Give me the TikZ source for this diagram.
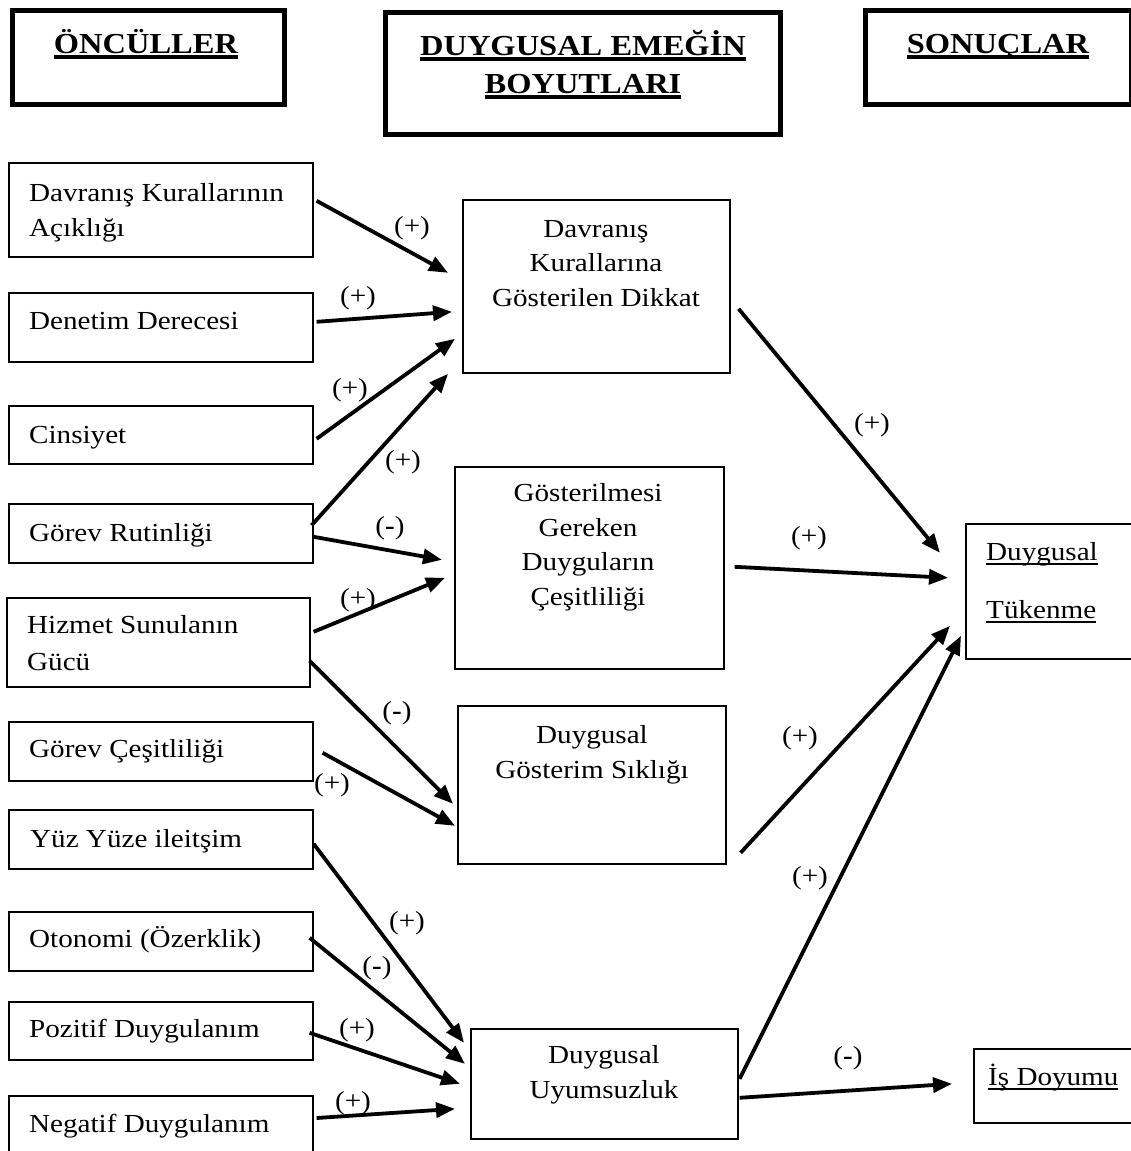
\documentclass[tikz,border=0pt]{standalone}
\usepackage{fontspec}
\setmainfont[FakeStretch=1.12]{Liberation Serif}
\usetikzlibrary{arrows.meta,calc}

% underlined text: thick rule for headings, thin rule for outcome names
\newcommand{\headul}[1]{\leavevmode\setbox0=\hbox{#1}\rlap{\rule[-5.8pt]{\wd0}{3.4pt}}\box0}
\newcommand{\thinul}[1]{\leavevmode\setbox0=\hbox{#1}\rlap{\rule[-4.8pt]{\wd0}{1.6pt}}\box0}
\newcommand{\bodysize}{\fontsize{26}{34.5}\selectfont}
\newcommand{\headsize}{\fontsize{29}{38}\selectfont\bfseries}
\newcommand{\minussign}{(\textbf{-})}

% multi-line text nodes are placed by the baseline of their last line
\tikzset{
  headbox/.style={draw, line width=5pt, anchor=north west, inner sep=0pt},
  box/.style={draw, line width=1.6pt, anchor=north west, inner sep=0pt},
  lefttxt/.style={font=\bodysize, align=left, anchor=base west, inner sep=0pt},
  midtxt/.style={font=\bodysize, align=center, anchor=base, inner sep=0pt},
  headtxt/.style={font=\headsize, align=center, anchor=base, inner sep=0pt},
  sign/.style={font=\bodysize, inner sep=0pt},
  link/.style={line width=3.8pt, -{Triangle[length=19pt,width=15pt]}}
}

\begin{document}
\begin{tikzpicture}[x=1pt,y=-1pt]
\useasboundingbox (0,0) rectangle (1131,1151);
\clip (0,0) rectangle (1131,1151);

% column headings
\node[headbox, minimum width=272pt, minimum height=94pt] (h1) at (10,8) {};
\node[headbox, minimum width=395pt, minimum height=122pt] (h2) at (383,10) {};
\node[headbox, minimum width=266pt, minimum height=94pt] (h3) at (863,8) {};
\node[headtxt] (h1t) at (146,53) {\headul{ÖNCÜLLER}};
\node[headtxt] (h2t) at (583,93) {\headul{DUYGUSAL EMEĞİN}\\\headul{BOYUTLARI}};
\node[headtxt] (h3t) at (998,53) {\headul{SONUÇLAR}};

% antecedents
\node[box, minimum width=304pt, minimum height=94pt] (c1) at (8,162) {};
\node[box, minimum width=304pt, minimum height=69pt] (c2) at (8,292) {};
\node[box, minimum width=304pt, minimum height=58pt] (c3) at (8,405) {};
\node[box, minimum width=304pt, minimum height=59pt] (c4) at (8,503) {};
\node[box, minimum width=303pt, minimum height=89pt] (c5) at (6,597) {};
\node[box, minimum width=304pt, minimum height=59pt] (c6) at (8,721) {};
\node[box, minimum width=304pt, minimum height=59pt] (c7) at (8,809) {};
\node[box, minimum width=304pt, minimum height=59pt] (c8) at (8,911) {};
\node[box, minimum width=304pt, minimum height=58pt] (c9) at (8,1001) {};
\node[box, minimum width=304pt, minimum height=80pt] (c10) at (8,1095) {};

\node[lefttxt] (c1t) at (29,236) {Davranış Kurallarının\\Açıklığı};
\node[lefttxt] (c2t) at (29,329) {Denetim Derecesi};
\node[lefttxt] (c3t) at (29,443) {Cinsiyet};
\node[lefttxt] (c4t) at (29,541) {Görev Rutinliği};
\node[lefttxt, font=\fontsize{26}{37}\selectfont] (c5t) at (27,670) {Hizmet Sunulanın\\Gücü};
\node[lefttxt] (c6t) at (29,757) {Görev Çeşitliliği};
\node[lefttxt] (c7t) at (30,847) {Yüz Yüze ileitşim};
\node[lefttxt] (c8t) at (29,947) {Otonomi (Özerklik)};
\node[lefttxt] (c9t) at (29,1037) {Pozitif Duygulanım};
\node[lefttxt] (c10t) at (29,1132) {Negatif Duygulanım};

% dimensions of emotional labour
\node[box, minimum width=267pt, minimum height=173pt] (mA) at (462,199) {};
\node[box, minimum width=269pt, minimum height=202pt] (mB) at (454,466) {};
\node[box, minimum width=268pt, minimum height=158pt] (mC) at (457,705) {};
\node[box, minimum width=267pt, minimum height=110pt] (mD) at (470,1028) {};

\node[midtxt] (mAt) at (596,306) {Davranış\\Kurallarına\\Gösterilen Dikkat};
\node[midtxt] (mBt) at (588,605) {Gösterilmesi\\Gereken\\Duyguların\\Çeşitliliği};
\node[midtxt] (mCt) at (592,778) {Duygusal\\Gösterim Sıklığı};
\node[midtxt] (mDt) at (604,1098) {Duygusal\\Uyumsuzluk};

% outcomes
\node[box, minimum width=180pt, minimum height=135pt] (rT) at (965,523) {};
\node[box, minimum width=180pt, minimum height=74pt] (rI) at (973,1048) {};
\node[lefttxt, font=\fontsize{26}{58}\selectfont] (rTt) at (986,618) {\thinul{Duygusal}\\\thinul{Tükenme}};
\node[lefttxt] (rIt) at (988,1085) {\thinul{İş Doyumu}};

% antecedents -> dimensions
\draw[link] ($(c1.east)+(3,-9)$)   -- ($(mA.west)+(-14,-13.5)$);
\draw[link] ($(c2.east)+(3,-5.5)$) -- ($(mA.west)+(-10,25.5)$);
\draw[link] ($(c3.east)+(3,4)$)    -- ($(mA.west)+(-7,52.5)$);
\draw[link] ($(c4.east)+(-2,-8)$)  -- ($(mA.west)+(-14,87.5)$);
\draw[link] ($(c4.east)+(0,3.5)$)  -- ($(mB.west)+(-12,-8)$);
\draw[link] ($(c5.east)+(3,-10.5)$) -- ($(mB.west)+(-9,10)$);
\draw[link] ($(c5.east)+(-1,18.5)$) -- ($(mC.west)+(-4,19)$);
\draw[link] ($(c6.east)+(9,1.5)$)  -- ($(mC.west)+(-2,41)$);
\draw[link] ($(c7.east)+(0,4.5)$)  -- ($(mD.west)+(-6,-41)$);
\draw[link] ($(c8.east)+(-4,-3.5)$) -- ($(mD.west)+(-5,-20)$);
\draw[link] ($(c9.east)+(-4,2)$)   -- ($(mD.west)+(-10,0)$);
\draw[link] ($(c10.north east)+(3,23)$) -- ($(mD.west)+(-15,25)$);

% dimensions -> outcomes
\draw[link] ($(mA.east)+(8,22.5)$) -- ($(rT.west)+(-25,-38.5)$);
\draw[link] ($(mB.east)+(10,-1)$)  -- ($(rT.west)+(-17,-13.5)$);
\draw[link] ($(mC.east)+(14,68)$)  -- ($(rT.west)+(-15,34.5)$);
\draw[link] ($(mD.east)+(1,-5)$)   -- ($(rT.west)+(-4,44.5)$);
\draw[link] ($(mD.east)+(1,14)$)   -- ($(rI.west)+(-21,-2)$);

% signs of the effects
\node[sign] (s1) at (412,228) {(+)};
\node[sign] (s2) at (358,298) {(+)};
\node[sign] (s3) at (350,390) {(+)};
\node[sign] (s4) at (403,462) {(+)};
\node[sign] (s5) at (390,528) {\minussign};
\node[sign] (s6) at (358,600) {(+)};
\node[sign] (s7) at (397,713) {\minussign};
\node[sign] (s8) at (332,785) {(+)};
\node[sign] (s9) at (407,923) {(+)};
\node[sign] (s10) at (377,968) {\minussign};
\node[sign] (s11) at (357,1030) {(+)};
\node[sign] (s12) at (353,1103) {(+)};
\node[sign] (s13) at (872,425) {(+)};
\node[sign] (s14) at (809,538) {(+)};
\node[sign] (s15) at (800,738) {(+)};
\node[sign] (s16) at (810,878) {(+)};
\node[sign] (s17) at (848,1058) {\minussign};
\end{tikzpicture}
\end{document}
